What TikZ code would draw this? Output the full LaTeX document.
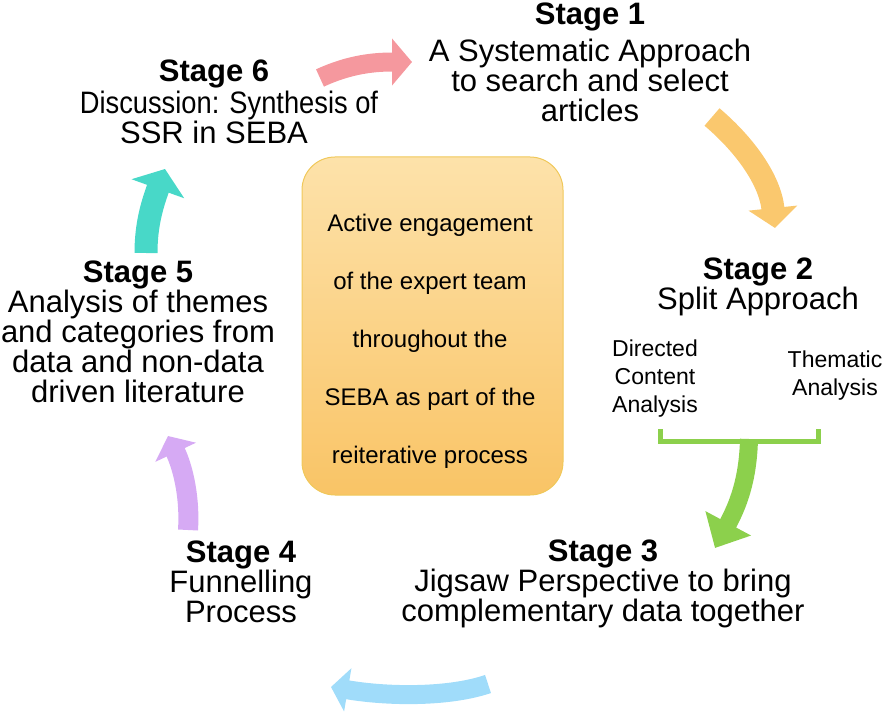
\documentclass[tikz,border=0pt]{standalone}
\usepackage{fontspec}
\setmainfont{Liberation Sans}
\usetikzlibrary{arrows.meta}
\definecolor{pinkA}{RGB}{245,152,158}
\definecolor{orangeA}{RGB}{250,200,110}
\definecolor{greenA}{RGB}{140,208,76}
\definecolor{blueA}{RGB}{160,220,250}
\definecolor{purpleA}{RGB}{214,170,244}
\definecolor{cyanA}{RGB}{72,216,200}
\definecolor{boxtop}{RGB}{253,226,170}
\definecolor{boxbot}{RGB}{249,196,102}
\definecolor{boxline}{RGB}{240,200,90}
\tikzset{
  stagetext/.style={anchor=north, inner sep=0pt, align=center, font=\fontsize{31}{30}\selectfont},
  smalltext/.style={anchor=north, inner sep=0pt, align=center, font=\fontsize{23}{28}\selectfont},
}
\begin{document}
\begin{tikzpicture}[x=1pt,y=-1pt]
\useasboundingbox (0,0) rectangle (892,714);
% central box
\node[draw=boxline, line width=1pt, rounded corners=33pt, top color=boxtop, bottom color=boxbot,
      minimum width=261pt, minimum height=338pt, inner sep=0pt] (box) at (432.5,326) {};
\node[anchor=north, inner sep=0pt, align=center, font=\fontsize{24}{58}\selectfont] (boxtext) at (430,214)
  {Active engagement\\of the expert team\\throughout the\\SEBA as part of the\\reiterative process};
% stages
\node[stagetext] (s1) at (590,3) {\textbf{Stage 1}\\[7pt]A Systematic Approach\\to search and select\\articles};
\node[stagetext] (s2) at (758,258) {\textbf{Stage 2}\\Split Approach};
\node[stagetext] (s3) at (603,540) {\textbf{Stage 3}\\Jigsaw Perspective to bring\\complementary data together};
\node[stagetext] (s4) at (241,541) {\textbf{Stage 4}\\Funnelling\\Process};
\node[stagetext] (s5) at (138,261) {\textbf{Stage 5}\\Analysis of themes\\and categories from\\data and non-data\\driven literature};
\node[stagetext] (s6) at (214,60) {\textbf{Stage 6}\\[2pt]\hspace*{30pt}\scalebox{0.88}[1]{Discussion: Synthesis of}\\SSR in SEBA};
\node[smalltext] (dca) at (655,340) {Directed\\Content\\Analysis};
\node[smalltext] (ta) at (835,351) {Thematic\\Analysis};
% bracket
\coordinate (bl) at (660,429);
\coordinate (br) at (818,429);
\coordinate (bm) at (749,441);
\draw[greenA, line width=5pt] (bl) |- (br |- bm) -- (br);
% arrows
\coordinate (p0) at (320,78); \coordinate (p1) at (412,62);
\draw[pinkA, line width=19pt, -{Triangle[length=20pt,width=46pt]}] (p0) .. controls (350,64) and (375,62) .. (p1);
\coordinate (o0) at (712,117); \coordinate (o1) at (775,228);
\draw[orangeA, line width=23pt, -{Triangle[length=20pt,width=48pt]}] (o0) .. controls (745,145) and (770,180) .. (o1);
\coordinate (g0) at (749,439); \coordinate (g1) at (715,548);
\draw[greenA, line width=18pt, -{Triangle[length=28pt,width=50pt]}] (g0) .. controls (748,480) and (738,505) .. (g1);
\coordinate (b0) at (488,684); \coordinate (b1) at (331,687);
\draw[blueA, line width=19pt, -{Triangle[length=17pt,width=43pt]}] (b0) .. controls (450,697) and (390,697) .. (b1);
\coordinate (u0) at (188,530); \coordinate (u1) at (168,436);
\draw[purpleA, line width=20pt, -{Triangle[length=18pt,width=44pt]}] (u0) .. controls (190,500) and (184,470) .. (u1);
\coordinate (c0) at (146,253); \coordinate (c1) at (165,169);
\draw[cyanA, line width=23pt, -{Triangle[length=21pt,width=55pt]}] (c0) .. controls (146,225) and (152,205) .. (c1);
\end{tikzpicture}
\end{document}
